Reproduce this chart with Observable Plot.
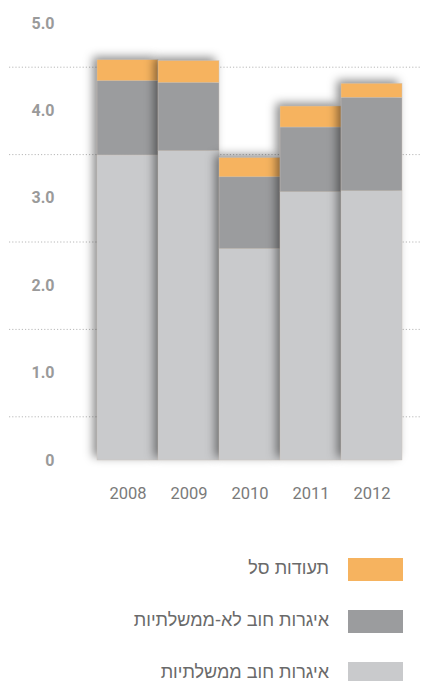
<!DOCTYPE html>
<html>
<head>
<meta charset="utf-8">
<script src="https://cdn.jsdelivr.net/npm/d3@7"></script>
<script src="https://cdn.jsdelivr.net/npm/@observablehq/plot@0.6"></script>
<style>
  html, body { margin: 0; padding: 0; background: #fff; }
  #wrap { position: relative; width: 423px; height: 681px; overflow: hidden; }
  .leg { position: absolute; left: 0; width: 423px; height: 23px; }
  .leg .sw { position: absolute; left: 348px; width: 55px; height: 23px; }
  .leg .tx { position: absolute; right: 94px; top: 0; line-height: 23px; font: 18px "Liberation Sans", "DejaVu Sans", sans-serif; color: #6a6a6a; direction: rtl; white-space: nowrap; }
</style>
</head>
<body>
<div id="wrap"></div>
<script>
const years = ["2008", "2009", "2010", "2011", "2012"];
const govt = [3.49, 3.54, 2.42, 3.07, 3.08];
const nonGovt = [0.85, 0.78, 0.82, 0.74, 1.07];
const etf = [0.24, 0.25, 0.22, 0.24, 0.16];
const seriesNames = ["איגרות חוב ממשלתיות", "איגרות חוב לא-ממשלתיות", "תעודות סל"];
const seriesColors = ["#c9cacc", "#9b9c9e", "#f6b35f"];
const yTicks = [0, 1, 2, 3, 4, 5];
const yTickLabels = ["0", "1.0", "2.0", "3.0", "4.0", "5.0"];
const gridValues = [0.5, 1.5, 2.5, 3.5, 4.5];

const seriesValues = [govt, nonGovt, etf];
const rows = [];
years.forEach((yr, i) => {
  seriesValues.forEach((vals, s) => rows.push({year: yr, series: seriesNames[s], value: vals[i], order: s}));
});
const totals = years.map((yr, i) => ({year: yr, total: govt[i] + nonGovt[i] + etf[i]}));

const marks = [
  Plot.ruleY(gridValues, {stroke: "#b8b8b8", strokeDasharray: "1.2,2", strokeWidth: 1, insetLeft: -88, insetRight: -18})
];
years.forEach(yr => {
  marks.push(Plot.barY(totals.filter(d => d.year === yr), {x: "year", y: "total", fill: "#000", fillOpacity: 0.45, dx: -4, dy: -3, ariaDescription: "shadow"}));
  marks.push(Plot.barY(rows.filter(d => d.year === yr), {x: "year", y: "value", fill: "series", order: "order", stroke: "#cfc6bc", strokeWidth: 0.4}));
});

const chart = Plot.plot({
  width: 423,
  height: 510,
  marginTop: 23,
  marginBottom: 50,
  marginLeft: 97,
  marginRight: 21,
  style: {background: "#fff", fontFamily: "Roboto, sans-serif"},
  x: {domain: years, padding: 0, label: null, tickSize: 0, tickPadding: 27},
  y: {domain: [0, 5], ticks: yTicks, tickFormat: (d) => yTickLabels[yTicks.indexOf(d)], label: null, tickSize: 0, tickPadding: 43},
  color: {domain: seriesNames, range: seriesColors},
  marks
});

const ns = "http://www.w3.org/2000/svg";
const defs = document.createElementNS(ns, "defs");
const filt = document.createElementNS(ns, "filter");
filt.setAttribute("id", "shblur");
filt.setAttribute("x", "-50%"); filt.setAttribute("y", "-50%");
filt.setAttribute("width", "200%"); filt.setAttribute("height", "200%");
const blur = document.createElementNS(ns, "feGaussianBlur");
blur.setAttribute("stdDeviation", "5");
filt.appendChild(blur);
defs.appendChild(filt);
chart.insertBefore(defs, chart.firstChild);
chart.querySelectorAll('[aria-description="shadow"]').forEach(el => { el.setAttribute("filter", "url(#shblur)"); });

chart.querySelectorAll('g[aria-label="y-axis tick label"] text').forEach(t => {
  t.setAttribute("font-size", "16"); t.setAttribute("font-weight", "bold"); t.setAttribute("fill", "#9a9a9a");
});
chart.querySelectorAll('g[aria-label="x-axis tick label"] text').forEach(t => {
  t.setAttribute("font-size", "16.5"); t.setAttribute("fill", "#7a7a7a");
});

const wrap = document.getElementById("wrap");
wrap.appendChild(chart);

const legendTops = [558, 610, 662];
const legendOrder = [2, 1, 0];
legendOrder.forEach((s, k) => {
  const row = document.createElement("div");
  row.className = "leg";
  row.style.top = legendTops[k] + "px";
  const sw = document.createElement("div");
  sw.className = "sw";
  sw.style.background = seriesColors[s];
  const tx = document.createElement("div");
  tx.className = "tx";
  tx.textContent = seriesNames[s];
  row.appendChild(tx);
  row.appendChild(sw);
  wrap.appendChild(row);
});
</script>
</body>
</html>
